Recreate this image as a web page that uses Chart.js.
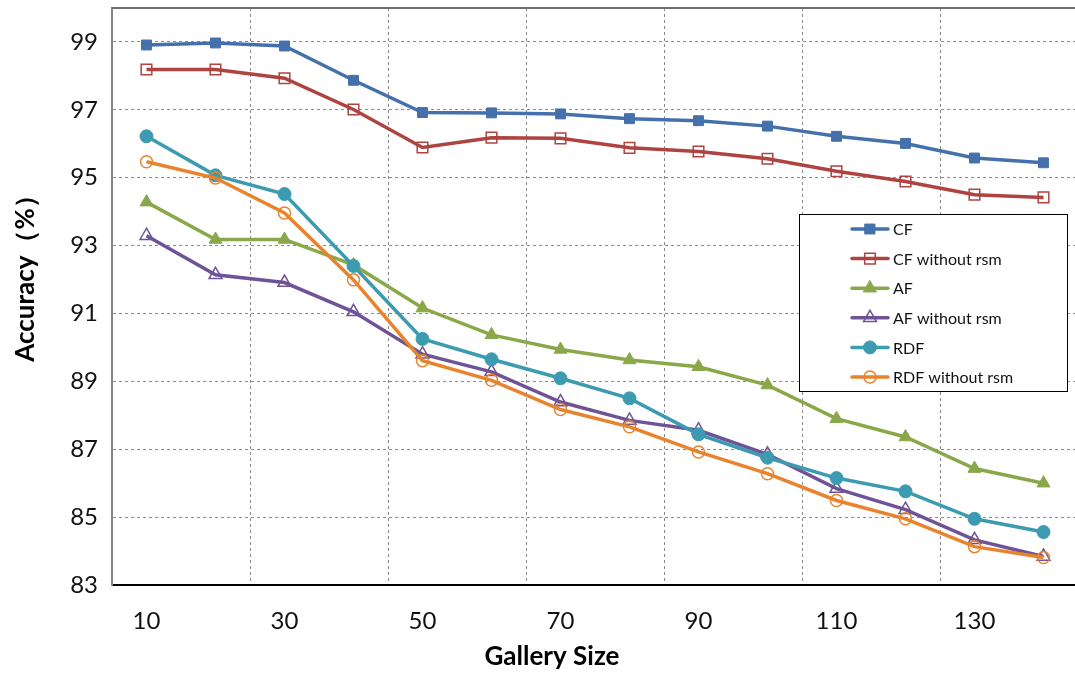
<!DOCTYPE html>
<html>
<head>
<meta charset="utf-8">
<title>Accuracy vs Gallery Size</title>
<script src="https://cdn.jsdelivr.net/npm/chart.js@4/dist/chart.umd.min.js"></script>
<style>
  html, body { margin: 0; padding: 0; background: #fff; overflow: hidden; }
  #wrap { width: 1080px; height: 673px; }
</style>
</head>
<body>
<div id="wrap"><canvas id="myChart"></canvas></div>
<script>
// data
const gallerySizes = [10, 20, 30, 40, 50, 60, 70, 80, 90, 100, 110, 120, 130, 140];
const yTicks = [83, 85, 87, 89, 91, 93, 95, 97, 99];

const cf        = [98.91, 98.97, 98.88, 97.87, 96.92, 96.91, 96.88, 96.74, 96.68, 96.52, 96.22, 96.01, 95.58, 95.44];
const cfNoRsm   = [98.19, 98.19, 97.93, 97.01, 95.89, 96.18, 96.16, 95.88, 95.77, 95.56, 95.19, 94.89, 94.50, 94.42];
const af        = [94.28, 93.18, 93.18, 92.43, 91.16, 90.37, 89.94, 89.63, 89.43, 88.89, 87.90, 87.36, 86.43, 86.00];
const afNoRsm   = [93.29, 92.14, 91.91, 91.05, 89.80, 89.28, 88.39, 87.85, 87.56, 86.85, 85.84, 85.22, 84.33, 83.84];
const rdf       = [96.22, 95.07, 94.52, 92.40, 90.25, 89.65, 89.09, 88.50, 87.44, 86.75, 86.15, 85.76, 84.95, 84.56];
const rdfNoRsm  = [95.47, 94.99, 93.96, 91.99, 89.61, 89.03, 88.17, 87.66, 86.92, 86.28, 85.49, 84.95, 84.13, 83.81];

const xTitle = 'Gallery Size';
const yTitle = 'Accuracy（%）';

const FONT = "Lato, 'Open Sans', sans-serif";

function series(label, data, color, style, filled, radius, order) {
  return {
    label: label,
    data: data,
    borderColor: color,
    backgroundColor: color,
    borderWidth: 3.5,
    pointStyle: style,
    pointRadius: radius,
    pointHoverRadius: radius,
    pointBackgroundColor: filled ? color : 'rgba(0,0,0,0)',
    pointBorderColor: color,
    pointBorderWidth: filled ? 1 : 1.5,
    tension: 0,
    order: order
  };
}

// frame line on top, axis titles (Excel puts them off-centre)
const framePlugin = {
  id: 'frame',
  afterDatasetsDraw(chart) {
    const ctx = chart.ctx;
    const a = chart.chartArea;
    ctx.save();
    ctx.strokeStyle = '#6e6e6e';
    ctx.lineWidth = 2;
    ctx.beginPath();
    ctx.moveTo(a.left, a.top);
    ctx.lineTo(a.right, a.top);
    ctx.stroke();

    ctx.fillStyle = '#000';
    ctx.font = 'bold 26px ' + FONT;
    ctx.textAlign = 'center';
    ctx.textBaseline = 'middle';
    ctx.fillText(xTitle, a.left + 440, a.bottom + 72);
    ctx.translate(26, a.top + 264);
    ctx.rotate(-Math.PI / 2);
    ctx.fillText(yTitle, 0, 0);
    ctx.restore();
  }
};

const legendPlugin = {
  id: 'boxLegend',
  afterDraw(chart) {
    const ctx = chart.ctx;
    const a = chart.chartArea;
    const x = a.right - 279, y = a.top + 206, w = 268, h = 177;
    ctx.save();
    ctx.fillStyle = '#fff';
    ctx.fillRect(x, y, w, h);
    ctx.strokeStyle = '#000';
    ctx.lineWidth = 1;
    ctx.strokeRect(x + 0.5, y + 0.5, w, h);
    ctx.font = '16px ' + FONT;
    ctx.textBaseline = 'middle';
    chart.data.datasets.forEach((ds, i) => {
      const cy = y + 15 + i * 29.6;
      ctx.strokeStyle = ds.borderColor;
      ctx.lineWidth = 3.5;
      ctx.lineCap = 'round';
      ctx.beginPath();
      ctx.moveTo(x + 53, cy);
      ctx.lineTo(x + 89, cy);
      ctx.stroke();
      ctx.fillStyle = ds.pointBackgroundColor;
      ctx.strokeStyle = ds.pointBorderColor;
      ctx.lineWidth = ds.pointBorderWidth;
      Chart.helpers.drawPoint(ctx, { pointStyle: ds.pointStyle, radius: ds.pointRadius, borderWidth: ds.pointBorderWidth, rotation: 0 }, x + 71, cy);
      ctx.fillStyle = '#111';
      ctx.fillText(ds.label, x + 94, cy + 1);
    });
    ctx.restore();
  }
};

const ctx = document.getElementById('myChart').getContext('2d');
new Chart(ctx, {
  type: 'line',
  data: {
    labels: gallerySizes,
    datasets: [
      series('CF', cf, '#4470ac', 'rect', true, 7, 6),
      series('CF without rsm', cfNoRsm, '#ae4340', 'rect', false, 7.5, 5),
      series('AF', af, '#8aa84a', 'triangle', true, 7.5, 4),
      series('AF without rsm', afNoRsm, '#6e5496', 'triangle', false, 7.5, 3),
      series('RDF', rdf, '#3d9bb1', 'circle', true, 6.5, 2),
      series('RDF without rsm', rdfNoRsm, '#e8832e', 'circle', false, 6, 1)
    ]
  },
  options: {
    responsive: true,
    maintainAspectRatio: false,
    animation: false,
    layout: { autoPadding: false, padding: { top: 8, right: 2, left: 0, bottom: 0 } },
    plugins: {
      legend: { display: false },
      tooltip: { enabled: false }
    },
    scales: {
      x: {
        type: 'category',
        offset: true,
        grid: {
          offset: true,
          drawTicks: false,
          color: c => (c.index % 2 === 0 ? '#8a8a8a' : 'rgba(0,0,0,0)'),
          lineWidth: 1
        },
        border: { display: true, color: '#000', width: 2, dash: [3, 3] },
        ticks: {
          autoSkip: false,
          maxRotation: 0,
          padding: 22,
          color: '#111',
          font: { family: FONT, size: 24 },
          callback: function (val, i) { return i % 2 === 0 ? this.getLabelForValue(val) : ''; }
        },
        afterFit: s => { s.height = 88; s.paddingLeft = 0; s.paddingRight = 0; }
      },
      y: {
        min: 83,
        max: 100,
        afterBuildTicks: s => { s.ticks = yTicks.map(v => ({ value: v })); },
        grid: {
          drawTicks: false,
          color: '#8a8a8a',
          lineWidth: 1
        },
        border: { display: true, color: '#868686', width: 2, dash: [3, 3] },
        ticks: {
          padding: 14,
          color: '#111',
          font: { family: FONT, size: 24 }
        },
        afterFit: s => { s.width = 112; s.paddingTop = 0; s.paddingBottom = 0; }
      }
    }
  },
  plugins: [framePlugin, legendPlugin]
});
</script>
</body>
</html>
